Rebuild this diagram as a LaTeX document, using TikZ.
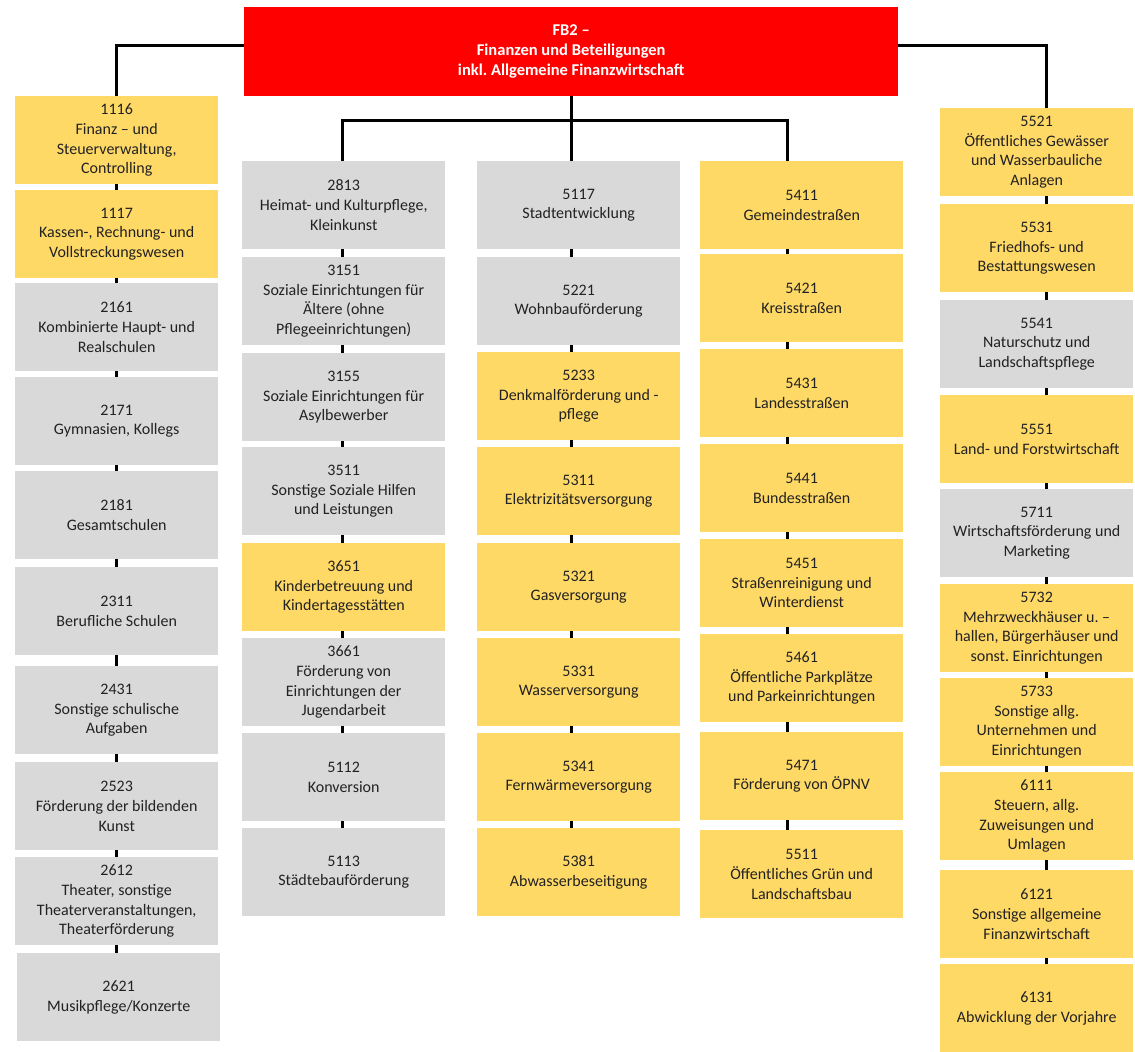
\documentclass[tikz,border=0pt]{standalone}
\usepackage{fontspec}
\setmainfont{Carlito}
\definecolor{boxy}{HTML}{FFD966}
\definecolor{boxg}{HTML}{D9D9D9}
\definecolor{topred}{HTML}{FF0000}
\definecolor{txt}{HTML}{222222}
\begin{document}
\frenchspacing
\begin{tikzpicture}[x=1pt,y=-1pt,
  bx/.style={draw=none, minimum width=203pt, minimum height=88pt, align=center, inner sep=0pt, text=txt, font=\fontsize{16}{19.7}\selectfont\frenchspacing, anchor=north west},
  yb/.style={bx, fill=boxy},
  gb/.style={bx, fill=boxg},
  yb5/.style={yb, minimum width=193pt},
  gb5/.style={gb, minimum width=193pt},
  conn/.style={line width=3pt, black},
  tick/.style={line width=3pt, black}]
\useasboundingbox (0,0) rectangle (1135,1052);
\coordinate (c1) at (116.5,0);
\coordinate (c2) at (342,0);
\coordinate (c3) at (571,0);
\coordinate (c4) at (787,0);
\coordinate (c5) at (1046,0);
\coordinate (hbar) at (0,120);

\node[fill=topred, minimum width=654pt, minimum height=89pt, inner sep=0pt, align=center, text=white, font=\fontsize{16.5}{19.8}\selectfont\bfseries\frenchspacing, anchor=north west] (top) at (244,7) {FB2 –\\Finanzen und Beteiligungen\\inkl. Allgemeine Finanzwirtschaft};

% column 1
\node[yb] (n1116) at (15,96) {1116\\Finanz – und\\Steuerverwaltung,\\Controlling};
\node[yb] (n1117) at (15,190) {1117\\Kassen-, Rechnung- und\\Vollstreckungswesen};
\node[gb] (n2161) at (15,283) {2161\\Kombinierte Haupt- und\\Realschulen};
\node[gb] (n2171) at (15,377) {2171\\Gymnasien, Kollegs};
\node[gb] (n2181) at (15,471) {2181\\Gesamtschulen};
\node[gb] (n2311) at (15,567) {2311\\Berufliche Schulen};
\node[gb] (n2431) at (15,666) {2431\\Sonstige schulische\\Aufgaben};
\node[gb] (n2523) at (15,762) {2523\\Förderung der bildenden\\Kunst};
\node[gb] (n2612) at (15,857) {2612\\Theater, sonstige\\Theaterveranstaltungen,\\Theaterförderung};
\node[gb] (n2621) at (17,953) {2621\\Musikpflege/Konzerte};

% column 2
\node[gb] (n2813) at (242,161) {2813\\Heimat- und Kulturpflege,\\Kleinkunst};
\node[gb] (n3151) at (242,257) {3151\\Soziale Einrichtungen für\\Ältere (ohne\\Pflegeeinrichtungen)};
\node[gb] (n3155) at (242,353) {3155\\Soziale Einrichtungen für\\Asylbewerber};
\node[gb] (n3511) at (242,447) {3511\\Sonstige Soziale Hilfen\\und Leistungen};
\node[yb] (n3651) at (242,543) {3651\\Kinderbetreuung und\\Kindertagesstätten};
\node[gb] (n3661) at (242,638) {3661\\Förderung von\\Einrichtungen der\\Jugendarbeit};
\node[gb] (n5112) at (242,733) {5112\\Konversion};
\node[gb] (n5113) at (242,828) {5113\\Städtebauförderung};

% column 3
\node[gb] (n5117) at (477,161) {5117\\Stadtentwicklung};
\node[gb] (n5221) at (477,257) {5221\\Wohnbauförderung};
\node[yb] (n5233) at (477,352) {5233\\Denkmalförderung und -\\pflege};
\node[yb] (n5311) at (477,447) {5311\\Elektrizitätsversorgung};
\node[yb] (n5321) at (477,543) {5321\\Gasversorgung};
\node[yb] (n5331) at (477,638) {5331\\Wasserversorgung};
\node[yb] (n5341) at (477,733) {5341\\Fernwärmeversorgung};
\node[yb] (n5381) at (477,828) {5381\\Abwasserbeseitigung};

% column 4
\node[yb] (n5411) at (700,161) {5411\\Gemeindestraßen};
\node[yb] (n5421) at (700,254) {5421\\Kreisstraßen};
\node[yb] (n5431) at (700,349) {5431\\Landesstraßen};
\node[yb] (n5441) at (700,444) {5441\\Bundesstraßen};
\node[yb] (n5451) at (700,539) {5451\\Straßenreinigung und\\Winterdienst};
\node[yb] (n5461) at (700,634) {5461\\Öffentliche Parkplätze\\und Parkeinrichtungen};
\node[yb] (n5471) at (700,732) {5471\\Förderung von ÖPNV};
\node[yb] (n5511) at (700,830) {5511\\Öffentliches Grün und\\Landschaftsbau};

% column 5
\node[yb5] (n5521) at (940,108) {5521\\Öffentliches Gewässer\\und Wasserbauliche\\Anlagen};
\node[yb5] (n5531) at (940,204) {5531\\Friedhofs- und\\Bestattungswesen};
\node[gb5] (n5541) at (940,300) {5541\\Naturschutz und\\Landschaftspflege};
\node[yb5] (n5551) at (940,395) {5551\\Land- und Forstwirtschaft};
\node[gb5] (n5711) at (940,489) {5711\\Wirtschaftsförderung und\\Marketing};
\node[yb5] (n5732) at (940,584) {5732\\Mehrzweckhäuser u. –\\hallen, Bürgerhäuser und\\sonst. Einrichtungen};
\node[yb5] (n5733) at (940,678) {5733\\Sonstige allg.\\Unternehmen und\\Einrichtungen};
\node[yb5] (n6111) at (940,772) {6111\\Steuern, allg.\\Zuweisungen und\\Umlagen};
\node[yb5] (n6121) at (940,870) {6121\\Sonstige allgemeine\\Finanzwirtschaft};
\node[yb5] (n6131) at (940,964) {6131\\Abwicklung der Vorjahre};

% main connectors
\draw[conn] ([yshift=6.5pt]top.west) -| (n1116.north -| c1);
\draw[conn] ([yshift=6.5pt]top.east) -| (n5521.north -| c5);
\draw[conn] (top.south -| c3) -- (n5117.north -| c3);
\draw[conn] (n2813.north -| c2) |- (hbar -| c4) -- (n5411.north -| c4);

% ticks
\foreach \a/\b in {n1116/n1117,n1117/n2161,n2161/n2171,n2171/n2181,n2181/n2311,n2311/n2431,n2431/n2523,n2523/n2612,n2612/n2621}
  \draw[tick] (\a.south -| c1) -- (\b.north -| c1);
\foreach \a/\b in {n2813/n3151,n3151/n3155,n3155/n3511,n3511/n3651,n3651/n3661,n3661/n5112,n5112/n5113}
  \draw[tick] (\a.south -| c2) -- (\b.north -| c2);
\foreach \a/\b in {n5117/n5221,n5221/n5233,n5233/n5311,n5311/n5321,n5321/n5331,n5331/n5341,n5341/n5381}
  \draw[tick] (\a.south -| c3) -- (\b.north -| c3);
\foreach \a/\b in {n5411/n5421,n5421/n5431,n5431/n5441,n5441/n5451,n5451/n5461,n5461/n5471,n5471/n5511}
  \draw[tick] (\a.south -| c4) -- (\b.north -| c4);
\foreach \a/\b in {n5521/n5531,n5531/n5541,n5541/n5551,n5551/n5711,n5711/n5732,n5732/n5733,n5733/n6111,n6111/n6121,n6121/n6131}
  \draw[tick] (\a.south -| c5) -- (\b.north -| c5);
\end{tikzpicture}
\end{document}
